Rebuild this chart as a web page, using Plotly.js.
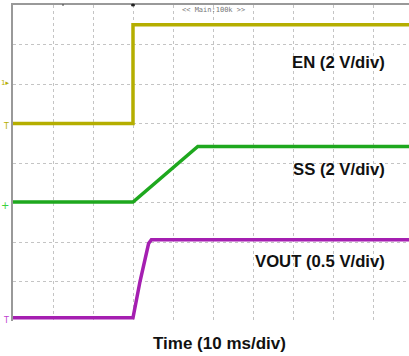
<!DOCTYPE html>
<html>
<head>
<meta charset="utf-8">
<script src="https://cdn.plot.ly/plotly-3.0.1.min.js"></script>
<style>
html,body{margin:0;padding:0;overflow:hidden;background:#fff;width:409px;height:356px;}
#chart{width:415px;height:356px;}
</style>
</head>
<body>
<div id="chart"></div>
<script>
// Time in ms relative to the EN edge (10 ms/div); voltages in volts
var enTime   = [-30, 0, 0, 70];
var enVolts  = [0.0, 0.0, 5.0, 5.0];

var ssTime   = [-30, 0, 16.2, 70];
var ssVolts  = [0.02, 0.02, 2.84, 2.84];

var voutTime  = [-30, 0, 1.75, 3.3, 3.9, 4.6, 70];
var voutVolts = [0.04, 0.04, 0.50, 0.82, 0.98, 1.03, 1.03];

var channelLabels = ["EN (2 V/div)", "SS (2 V/div)", "VOUT (0.5 V/div)"];
var timeLabel = "Time (10 ms/div)";
var scopeHeader = "<< Main:100k >>";

var cEN = "#b5ae00", cSS = "#1ea81e", cVO = "#a51fb1";
var gridCol = "#c4c4c4";

var traces = [
  {x: enTime, y: enVolts, yaxis: "y", mode: "lines", line: {color: cEN, width: 3.5}, hoverinfo: "skip"},
  {x: ssTime, y: ssVolts, yaxis: "y2", mode: "lines", line: {color: cSS, width: 3.5}, hoverinfo: "skip"},
  {x: voutTime, y: voutVolts, yaxis: "y3", mode: "lines", line: {color: cVO, width: 3.5}, hoverinfo: "skip"}
];

function px(x){return (x-13)/400;}
function py(y){return (321-y)/316;}

var boxes = [
  [275, 47, 415, 80],
  [280, 151, 404, 187],
  [246, 245, 400, 278]
];
var shapes = boxes.map(function(b){
  return {type: "rect", xref: "paper", yref: "paper", x0: px(b[0]), x1: px(b[2]), y0: py(b[3]), y1: py(b[1]),
          fillcolor: "#ffffff", line: {width: 0}, layer: "between"};
});
// trigger dot at top
shapes.push({type: "circle", xref: "x", yref: "paper", x0: -0.5, x1: 0.5, y0: py(6.5), y1: py(3.5),
             fillcolor: "#222", line: {width: 0}, layer: "above"});
shapes.push({type: "line", xref: "x", yref: "paper", x0: -17.5, x1: -17.5, y0: py(6), y1: py(4),
             line: {color: "#444", width: 1}, layer: "above"});

var lblFont = {family: "Arial, 'Liberation Sans', sans-serif", size: 16.7, color: "#111"};
var annotations = [
  {xref: "paper", yref: "paper", x: px(387), y: py(63), xanchor: "right", yanchor: "middle",
   text: "<b>" + channelLabels[0] + "</b>", showarrow: false, font: lblFont},
  {xref: "paper", yref: "paper", x: px(387), y: py(169), xanchor: "right", yanchor: "middle",
   text: "<b>" + channelLabels[1] + "</b>", showarrow: false, font: lblFont},
  {xref: "paper", yref: "paper", x: px(387), y: py(261), xanchor: "right", yanchor: "middle",
   text: "<b>" + channelLabels[2] + "</b>", showarrow: false, font: lblFont},
  {xref: "paper", yref: "paper", x: px(219.5), y: py(343), xanchor: "center", yanchor: "middle",
   text: "<b>" + timeLabel + "</b>", showarrow: false, font: {family: lblFont.family, size: 17, color: "#111"}},
  {xref: "paper", yref: "paper", x: px(214), y: py(10), xanchor: "center", yanchor: "middle",
   text: scopeHeader.replace(/</g, "&lt;").replace(/>/g, "&gt;"), showarrow: false,
   font: {family: "'DejaVu Sans Mono', monospace", size: 7, color: "#777"}},
  // channel markers on the left
  {xref: "paper", yref: "paper", x: 0, xshift: -2, y: py(83), xanchor: "right", yanchor: "middle",
   text: "1▸", showarrow: false, font: {family: "DejaVu Sans", size: 7, color: cEN}},
  {xref: "paper", yref: "paper", x: 0, xshift: -2, y: py(126), xanchor: "right", yanchor: "middle",
   text: "T", showarrow: false, font: {family: "DejaVu Sans", size: 8, color: cEN}},
  {xref: "paper", yref: "paper", x: 0, xshift: -2, y: py(205), xanchor: "right", yanchor: "middle",
   text: "+", showarrow: false, font: {family: "DejaVu Sans", size: 10, color: "#3cd03c"}},
  {xref: "paper", yref: "paper", x: 0, xshift: -2, y: py(320), xanchor: "right", yanchor: "middle",
   text: "T", showarrow: false, font: {family: "DejaVu Sans", size: 8, color: "#c040d0"}}
];

var layout = {
  width: 415, height: 356,
  margin: {l: 13, r: 2, t: 5, b: 35, pad: 0},
  paper_bgcolor: "#fff", plot_bgcolor: "#fff",
  showlegend: false,
  xaxis: {range: [-30, 70], tickvals: [-20, -10, 0, 10, 20, 30, 40, 50, 60], showticklabels: false, ticks: "",
          showgrid: true, gridcolor: gridCol, griddash: "dot", gridwidth: 1, zeroline: false,
          side: "top", showline: true, linecolor: "#999", linewidth: 2, fixedrange: true},
  yaxis: {range: [-10, 6], tickvals: [-8, -6, -4, -2, 0, 2, 4], showticklabels: false, ticks: "",
          showgrid: true, gridcolor: gridCol, griddash: "dot", gridwidth: 1, zeroline: false,
          showline: true, linecolor: "#999", linewidth: 2, fixedrange: true},
  yaxis2: {range: [-6, 10], overlaying: "y", showgrid: false, showticklabels: false, ticks: "", zeroline: false, showline: false},
  yaxis3: {range: [0, 4], overlaying: "y", showgrid: false, showticklabels: false, ticks: "", zeroline: false, showline: false},
  shapes: shapes,
  annotations: annotations
};

Plotly.newPlot("chart", traces, layout, {staticPlot: true, displayModeBar: false});
</script>
</body>
</html>
